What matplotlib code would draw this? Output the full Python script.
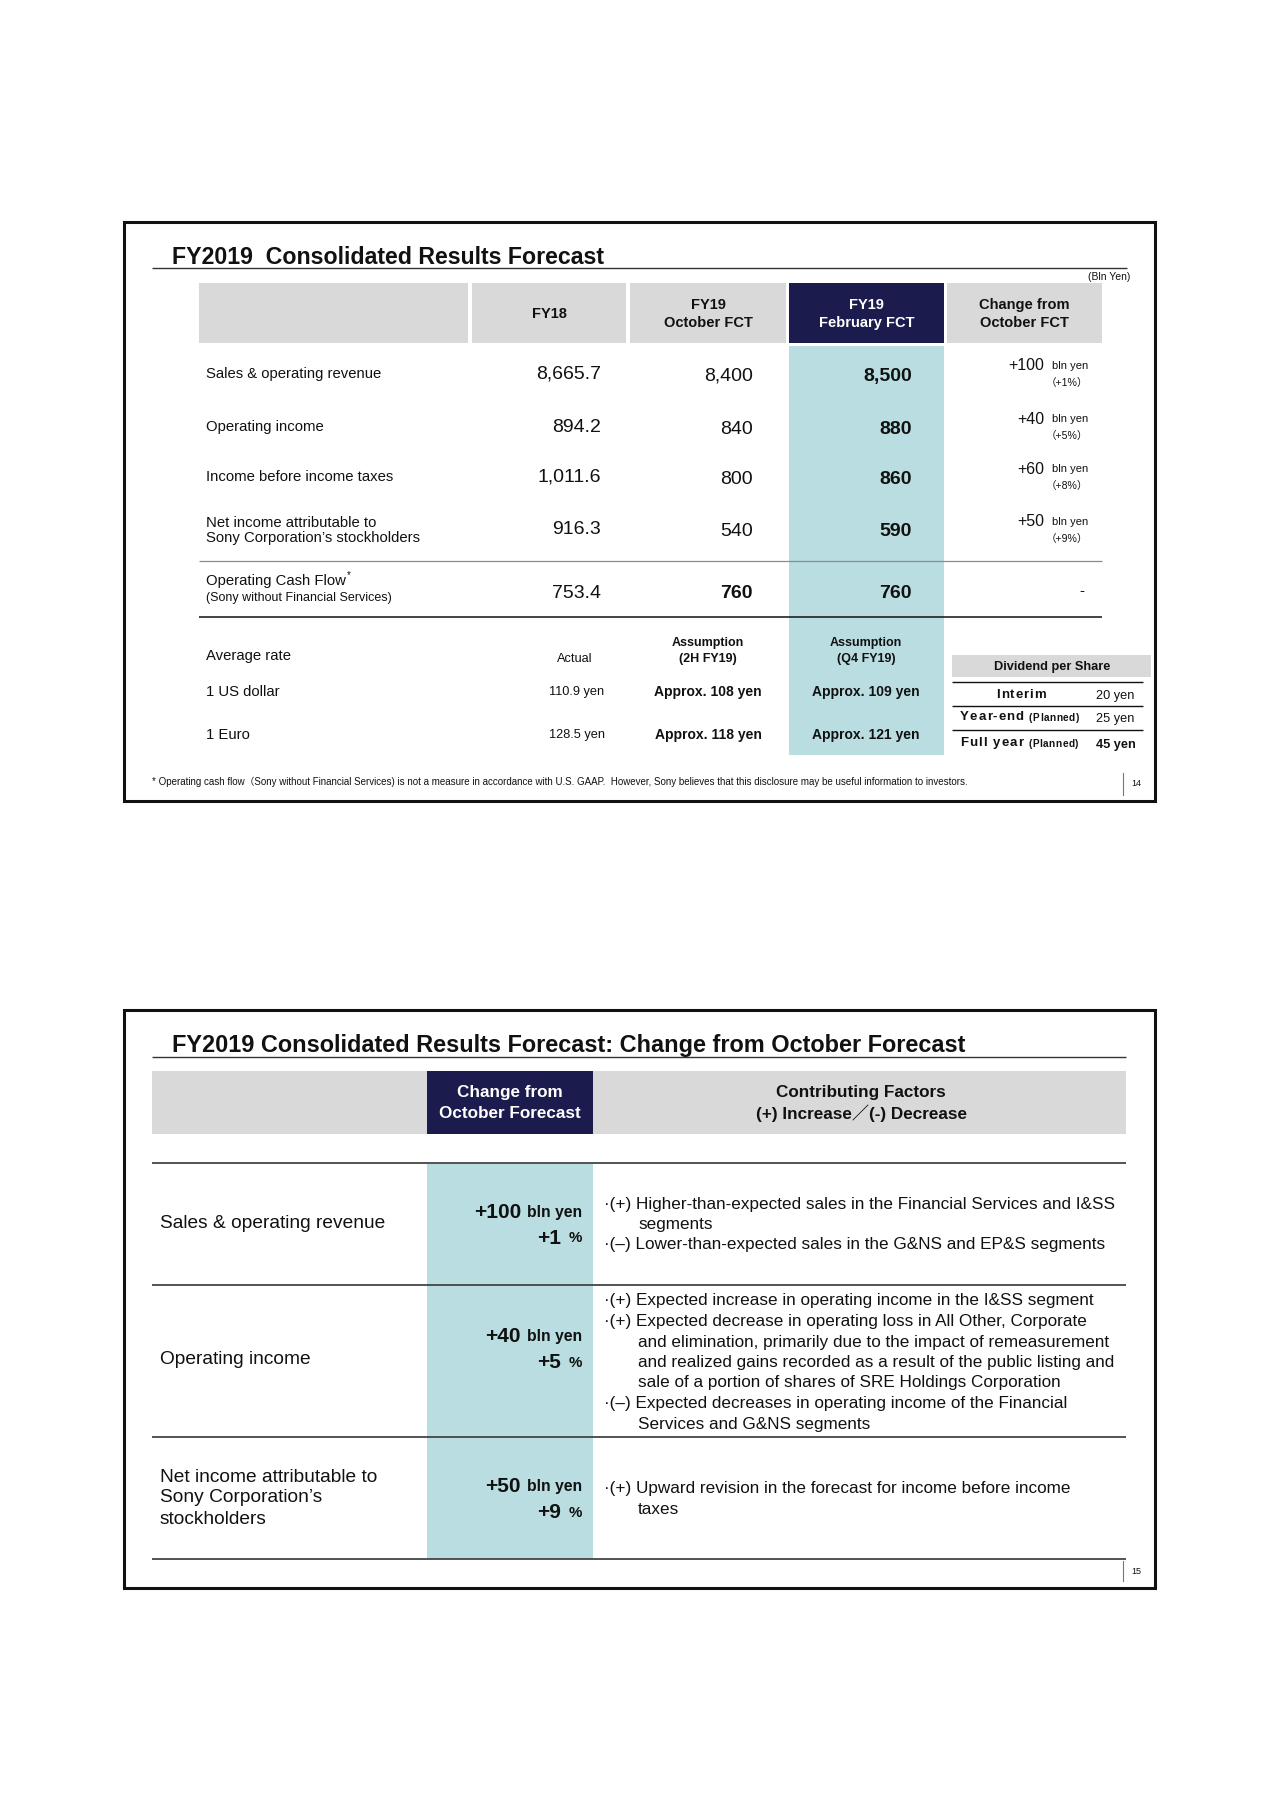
import matplotlib
matplotlib.use('Agg')
import matplotlib.pyplot as plt
from matplotlib.patches import Rectangle

plt.rcParams['font.family'] = ['Liberation Sans', 'Noto Sans CJK JP', 'DejaVu Sans']

# ---- slide 14 data ----
col_heads = ['', 'FY18', 'FY19\nOctober FCT', 'FY19\nFebruary FCT', 'Change from\nOctober FCT']
metrics = ['Sales & operating revenue', 'Operating income', 'Income before income taxes',
           'Net income attributable to\nSony Corporation\u2019s stockholders']
fy18 = ['8,665.7', '894.2', '1,011.6', '916.3']
oct_fct = ['8,400', '840', '800', '540']
feb_fct = ['8,500', '880', '860', '590']
chg_amt = ['+100', '+40', '+60', '+50']
chg_pct = ['\uff08+1%\uff09', '\uff08+5%\uff09', '\uff08+8%\uff09', '\uff08+9%\uff09']
ocf_label = ['Operating Cash Flow', '(Sony without Financial Services)']
ocf_vals = ['753.4', '760', '760', '-']
rate_heads = ['Actual', 'Assumption\n(2H FY19)', 'Assumption\n(Q4 FY19)']
currencies = ['1 US dollar', '1 Euro']
rate_actual = ['110.9 yen', '128.5 yen']
rate_oct = ['Approx. 108 yen', 'Approx. 118 yen']
rate_feb = ['Approx. 109 yen', 'Approx. 121 yen']
div_items = ['Interim', 'Year-end', 'Full year']
div_notes = ['', '(Planned)', '(Planned)']
div_vals = ['20 yen', '25 yen', '45 yen']
footnote = ('* Operating cash flow\uff08Sony without Financial Services) is not a measure in accordance '
            'with U.S. GAAP.  However, Sony believes that this disclosure may be useful information to investors.')

# ---- slide 15 data ----
items2 = ['Sales & operating revenue', 'Operating income',
          'Net income attributable to\nSony Corporation\u2019s\nstockholders']
chg2_amt = ['+100', '+40', '+50']
chg2_pct = ['+1', '+5', '+9']
factors = [
    [('(+)', ['Higher-than-expected sales in the Financial Services and I&SS', 'segments']),
     ('(\u2013)', ['Lower-than-expected sales in the G&NS and EP&S segments'])],
    [('(+)', ['Expected increase in operating income in the I&SS segment']),
     ('(+)', ['Expected decrease in operating loss in All Other, Corporate',
              'and elimination, primarily due to the impact of remeasurement',
              'and realized gains recorded as a result of the public listing and',
              'sale of a portion of shares of SRE Holdings Corporation']),
     ('(\u2013)', ['Expected decreases in operating income of the Financial',
                   'Services and G&NS segments'])],
    [('(+)', ['Upward revision in the forecast for income before income', 'taxes'])],
]

INK = '#111111'
NAVY = '#1b1c4d'
GRAY = '#d9d9d9'
BLUE = '#b9dde1'

fig = plt.figure(figsize=(12.8, 18.11), dpi=100)
ax = fig.add_axes([0, 0, 1, 1])
ax.set_xlim(0, 1280)
ax.set_ylim(1811, 0)
ax.axis('off')
renderer = fig.canvas.get_renderer()


def put(x, y, s, size, ha='left', va='center', bold=False, color=INK):
    return ax.text(x, y, s, fontsize=size, ha=ha, va=va, color=color,
                   fontweight='bold' if bold else 'normal')


def right_edge(t):
    return t.get_window_extent(renderer=renderer).x1


def spaced(x, y, s, size, track, bold=True):
    # letter-spaced text, drawn one glyph at a time
    for ch in s:
        if ch == ' ':
            t = put(x, y, 'n', size, bold=bold)
            w = right_edge(t) - x
            t.remove()
            x += w * 0.5 + track
            continue
        t = put(x, y, ch, size, bold=bold)
        x = right_edge(t) + track
    return x


def box(x0, x1, y0, y1, color, ec='none', lw=0):
    ax.add_patch(Rectangle((x0, y0), x1 - x0, y1 - y0, facecolor=color, edgecolor=ec, lw=lw))


def hline(y, x0, x1, color=INK, lw=1.0):
    ax.plot([x0, x1], [y, y], color=color, lw=lw, solid_capstyle='butt')


# ================= slide 14 =================
box(124, 1155, 222, 801, 'none', ec=INK, lw=2.2)
put(172, 264, 'FY2019  Consolidated Results Forecast', 16.7, va='baseline', bold=True)
hline(268, 152, 1127, '#333333', 1.0)
put(1130, 277, '(Bln Yen)', 7.5, ha='right')

cols = [(199, 468), (472, 626), (630, 786), (789, 944), (947, 1102)]
box(789, 944, 346, 755, BLUE)
for i, (x0, x1) in enumerate(cols):
    fc = NAVY if i == 3 else GRAY
    box(x0, x1, 283, 343, fc)
    lines = col_heads[i].split('\n')
    tc = 'white' if i == 3 else INK
    cx = (x0 + x1) / 2
    if len(lines) == 1:
        put(cx, 314, lines[0], 10.5, ha='center', bold=True, color=tc)
    else:
        put(cx, 305, lines[0], 10.5, ha='center', bold=True, color=tc)
        put(cx, 323, lines[1], 10.5, ha='center', bold=True, color=tc)

row_y = [375, 428, 478, 531]
for i, y in enumerate(row_y):
    lab = metrics[i].split('\n')
    if len(lab) == 1:
        put(206, y - 1, lab[0], 10.7)
    else:
        put(206, y - 8, lab[0], 10.7)
        put(206, y + 7, lab[1], 10.7)
    put(601, y - 1, fy18[i], 14, ha='right')
    put(753, y + 1, oct_fct[i], 14, ha='right')
    put(912, y + 1, feb_fct[i], 14, ha='right', bold=True)
    put(1044, y - 9, chg_amt[i], 11.5, ha='right')
    put(1088, y - 9, 'bln yen', 8, ha='right')
    put(1088, y + 8, chg_pct[i], 7.6, ha='right')

hline(561, 199, 1102, '#8c8c8c', 0.9)
t = put(206, 581, ocf_label[0], 10.7)
put(right_edge(t) + 1, 575, '*', 7)
put(206, 598, ocf_label[1], 9)
put(601, 594, ocf_vals[0], 14, ha='right')
put(753, 594, ocf_vals[1], 14, ha='right', bold=True)
put(912, 594, ocf_vals[2], 14, ha='right', bold=True)
put(1082, 591, ocf_vals[3], 11, ha='center')
hline(617, 199, 1102, INK, 1.1)

put(206, 656, 'Average rate', 10.7)
put(575, 659, rate_heads[0], 9.2, ha='center')
for cx, head in [(708, rate_heads[1]), (866, rate_heads[2])]:
    h = head.split('\n')
    put(cx, 643, h[0], 9, ha='center', bold=True)
    put(cx, 659, h[1], 9, ha='center', bold=True)
rate_y = [692, 735]
for i, y in enumerate(rate_y):
    put(206, y, currencies[i], 10.7)
    put(577, y, rate_actual[i], 9.2, ha='center')
    put(708, y, rate_oct[i], 10, ha='center', bold=True)
    put(866, y, rate_feb[i], 10, ha='center', bold=True)

# dividend table
box(952, 1151, 655, 677, GRAY)
put(1052, 667, 'Dividend per Share', 9.2, ha='center', bold=True)
for y in [682, 706, 730]:
    hline(y, 952, 1143, INK, 1.0)
div_y = [695, 718, 744]
for i, y in enumerate(div_y):
    if div_notes[i]:
        xe = spaced(960, y - 1, div_items[i], 9.5, 1.0)
        spaced(xe + 4, y, div_notes[i], 7.2, 0.6)
    else:
        spaced(996, y, div_items[i], 9.5, 1.0)
    put(1096, y + 1, div_vals[i], 9.2, bold=(i == 2))

put(152, 782, footnote, 7.0)
ax.plot([1123, 1123], [773, 795], color='#777777', lw=0.8)
put(1136, 784, '14', 6.5, ha='center')

# ================= slide 15 =================
box(124, 1155, 1010, 1588, 'none', ec=INK, lw=2.2)
put(172, 1052, 'FY2019 Consolidated Results Forecast: Change from October Forecast', 16.9,
    va='baseline', bold=True)
hline(1057, 152, 1126, '#333333', 1.0)

box(152, 1126, 1071, 1134, GRAY)
box(427, 593, 1071, 1134, NAVY)
box(427, 593, 1164, 1559, BLUE)
put(510, 1093, 'Change from', 12.3, ha='center', bold=True, color='white')
put(510, 1113, 'October Forecast', 12.3, ha='center', bold=True, color='white')
put(861, 1093, 'Contributing Factors', 12.3, ha='center', bold=True)
put(861, 1113, '(+) Increase\uff0f(-) Decrease', 12.3, ha='center', bold=True)

for y in [1163, 1285, 1437, 1559]:
    hline(y, 152, 1126, '#444444', 1.3)

label_y = [[1223], [1360], [1477, 1498, 1519]]
amt_y = [1212, 1337, 1487]
first_line_y = [1204, 1301, 1489]
for i in range(3):
    for s, y in zip(items2[i].split('\n'), label_y[i]):
        put(160, y, s, 13.8)
    put(582, amt_y[i], 'bln yen', 11.3, ha='right', bold=True)
    put(521, amt_y[i], chg2_amt[i], 15, ha='right', bold=True)
    put(582, amt_y[i] + 26, '%', 10.8, ha='right', bold=True)
    put(561, amt_y[i] + 26, chg2_pct[i], 15, ha='right', bold=True)
    y = first_line_y[i]
    for sign, lines in factors[i]:
        put(604, y, '\u00b7' + sign + ' ' + lines[0], 12.3)
        y += 20.5
        for ln in lines[1:]:
            put(638, y, ln, 12.3)
            y += 20.5

ax.plot([1123, 1123], [1561, 1581], color='#777777', lw=0.8)
put(1136, 1571, '15', 6.5, ha='center')

fig.savefig('out.png', dpi=100)
